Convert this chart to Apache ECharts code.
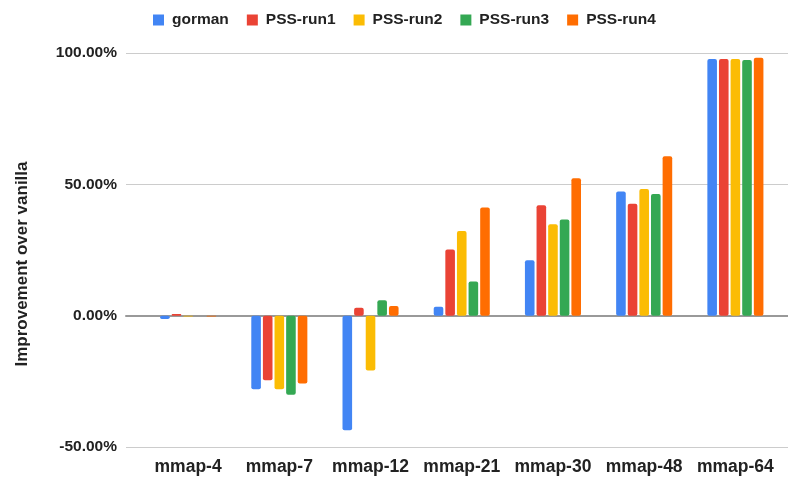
<!DOCTYPE html>
<html><head><meta charset="utf-8">
<script src="https://cdn.jsdelivr.net/npm/echarts@6/dist/echarts.min.js"></script>
<style>html,body{margin:0;padding:0;background:#fff}#c{width:788px;height:477px}</style>
</head><body><div id="c"></div>
<script>
const categories = ['mmap-4','mmap-7','mmap-12','mmap-21','mmap-30','mmap-48','mmap-64'];
const seriesNames = ['gorman','PSS-run1','PSS-run2','PSS-run3','PSS-run4'];
const gorman  = [-1.3, -28.0, -43.6, 3.4, 21.1, 47.3, 97.7];
const pssRun1 = [0.6, -24.6, 3.0, 25.2, 42.0, 42.6, 97.7];
const pssRun2 = [-0.3, -28.0, -20.9, 32.2, 34.8, 48.2, 97.7];
const pssRun3 = [0.0, -30.1, 5.9, 13.0, 36.6, 46.3, 97.3];
const pssRun4 = [-0.3, -25.8, 3.7, 41.2, 52.3, 60.7, 98.2];
const yTicks = [-50, 0, 50, 100];
const colors = ['#4285F4','#EA4335','#FBBC04','#34A853','#FF6D01'];
const all = [gorman, pssRun1, pssRun2, pssRun3, pssRun4];
const chart = echarts.init(document.getElementById('c'));
const font = 'Arial, "Liberation Sans", sans-serif';
const yMin = yTicks[0], yMax = yTicks[yTicks.length-1];
chart.setOption({
  animation:false,
  color: colors,
  legend:{top:7,left:148,itemWidth:11,itemHeight:11,itemGap:18,icon:'rect',
    textStyle:{fontFamily:font,fontWeight:'bold',fontSize:15.5,color:'#222',padding:[0,0,0,3]}},
  grid:[
    {left:142.5,right:7,top:53,bottom:30},
    {left:126,right:0,top:53,bottom:30}
  ],
  xAxis:[
    {type:'category',data:categories,gridIndex:0,
     axisLine:{show:false},axisTick:{show:false},
     axisLabel:{interval:0,fontFamily:font,fontWeight:'bold',fontSize:17.5,color:'#222',margin:11}},
    {type:'value',gridIndex:1,min:0,max:1,
     axisLine:{show:true,onZero:true,lineStyle:{color:'#999',width:2}},
     axisTick:{show:false},axisLabel:{show:false},splitLine:{show:false}}
  ],
  yAxis:[
    {type:'value',gridIndex:0,min:yMin,max:yMax,interval:50,
     axisLabel:{show:false},splitLine:{show:false},axisLine:{show:false},axisTick:{show:false}},
    {type:'value',gridIndex:1,min:yMin,max:yMax,interval:50,
     name:'Improvement over vanilla',nameLocation:'middle',nameGap:95,
     nameTextStyle:{fontFamily:font,fontWeight:'bold',fontSize:17,color:'#222',padding:[0,28,0,0]},
     axisLabel:{fontFamily:font,fontWeight:'bold',fontSize:15.5,color:'#222',margin:9,
       formatter:v=>v.toFixed(2)+'%'},
     splitLine:{lineStyle:{color:'#ccc'}},
     axisLine:{show:false},axisTick:{show:false}}
  ],
  series: all.map((d,i)=>({
    name:seriesNames[i],type:'bar',data:d,barWidth:9.6,barGap:'21%',
    xAxisIndex:0,yAxisIndex:0,z:1,
    itemStyle:{borderRadius:2}
  }))
});
</script></body></html>
